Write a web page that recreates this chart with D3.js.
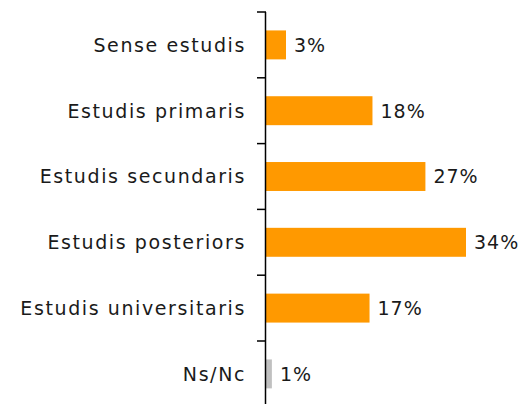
<!DOCTYPE html>
<html>
<head>
<meta charset="utf-8">
<script src="https://cdn.jsdelivr.net/npm/d3@7"></script>
<style>
  body { margin: 0; background: #fff; }
  text { font-family: "DejaVu Sans", sans-serif; fill: #1a1a1a; }
</style>
</head>
<body>
<div id="chart"></div>
<script>
const categories=["Sense estudis", "Estudis primaris", "Estudis secundaris", "Estudis posteriors", "Estudis universitaris", "Ns/Nc"];
const values=[3.4, 18.1, 27.1, 34, 17.6, 1];
const labels=["3%", "18%", "27%", "34%", "17%", "1%"];
const colors=["#FF9900", "#FF9900", "#FF9900", "#FF9900", "#FF9900", "#C0C0C0"];

const width=526, height=404;
const x0=266, y0=12, step=65.8;

const svg=d3.select("#chart").append("svg")
    .attr("width", width)
    .attr("height", height);

const x=d3.scaleLinear().domain([0, 34]).range([x0, x0+200]);
const y=d3.scaleBand()
    .domain(categories)
    .range([y0, y0+step*categories.length])
    .paddingInner(0.56)
    .paddingOuter(0.28);

svg.selectAll(".bar")
    .data(categories)
    .enter().append("rect")
    .attr("class", "bar")
    .attr("x", x(0))
    .attr("y", d => y(d))
    .attr("width", (d, i) => x(values[i])-x(0))
    .attr("height", y.bandwidth())
    .attr("fill", (d, i) => colors[i]);

svg.selectAll(".val")
    .data(categories)
    .enter().append("text")
    .attr("class", "val")
    .attr("x", (d, i) => x(values[i])+8)
    .attr("y", d => y(d)+y.bandwidth()/2)
    .attr("dy", "0.36em")
    .attr("font-size", 19)
    .attr("letter-spacing", 1)
    .text((d, i) => labels[i]);

svg.selectAll(".cat")
    .data(categories)
    .enter().append("text")
    .attr("class", "cat")
    .attr("x", 246)
    .attr("y", d => y(d)+y.bandwidth()/2)
    .attr("dy", "0.36em")
    .attr("text-anchor", "end")
    .attr("font-size", 19)
    .attr("letter-spacing", 1.6)
    .text(d => d);

// axis line and ticks at category boundaries
svg.append("line")
    .attr("x1", x0-0.5).attr("x2", x0-0.5)
    .attr("y1", y0).attr("y2", height)
    .attr("stroke", "#000").attr("stroke-width", 1.5);

const bounds=d3.range(categories.length+1).map(i => y0+i*step);
svg.selectAll(".tick")
    .data(bounds)
    .enter().append("line")
    .attr("class", "tick")
    .attr("x1", x0-9).attr("x2", x0)
    .attr("y1", d => d).attr("y2", d => d)
    .attr("stroke", "#000").attr("stroke-width", 1.5);
</script>
</body>
</html>
